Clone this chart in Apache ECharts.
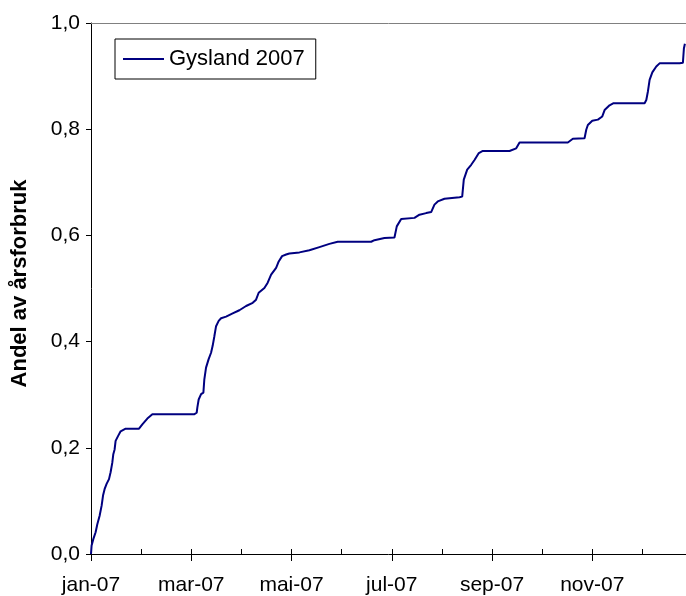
<!DOCTYPE html>
<html>
<head>
<meta charset="utf-8">
<script src="https://cdn.jsdelivr.net/npm/echarts@6/dist/echarts.min.js"></script>
<style>
html,body{margin:0;padding:0;background:#fff;}
#c{width:686px;height:596px;}
</style>
</head>
<body>
<div id="c"></div>
<script>
// x = months since 1 Jan 2007 (month axis, evenly spaced)
const monthLabels = ['jan-07','feb-07','mar-07','apr-07','mai-07','jun-07','jul-07','aug-07','sep-07','okt-07','nov-07','des-07'];
const yTicks = ['0,0','0,2','0,4','0,6','0,8','1,0'];
const seriesName = 'Gysland 2007';
const xMonths = [0,0.012,0.046,0.092,0.126,0.172,0.212,0.240,0.271,0.311,0.359,0.391,0.425,0.445,0.471,0.491,0.539,0.591,0.691,0.958,1.024,1.124,1.224,2.056,2.108,2.122,2.148,2.196,2.242,2.261,2.295,2.347,2.395,2.427,2.461,2.495,2.547,2.595,2.695,2.826,2.960,3.094,3.226,3.293,3.345,3.459,3.525,3.593,3.693,3.745,3.812,3.892,3.958,4.158,4.357,4.557,4.756,4.922,5.589,5.655,5.854,6.054,6.100,6.188,6.453,6.553,6.687,6.786,6.852,6.918,7.052,7.351,7.405,7.437,7.505,7.585,7.651,7.737,7.816,8.349,8.483,8.549,9.513,9.613,9.846,9.880,9.912,10.000,10.112,10.200,10.246,10.345,10.425,11.044,11.078,11.110,11.144,11.198,11.277,11.343,11.743,11.808,11.828,11.848];
const share = [0,0.016,0.028,0.041,0.056,0.072,0.091,0.110,0.122,0.132,0.141,0.154,0.172,0.188,0.197,0.213,0.222,0.231,0.236,0.236,0.244,0.255,0.263,0.263,0.266,0.276,0.291,0.301,0.304,0.329,0.351,0.367,0.379,0.392,0.410,0.429,0.439,0.444,0.447,0.453,0.459,0.467,0.473,0.479,0.492,0.501,0.511,0.526,0.539,0.551,0.561,0.564,0.566,0.568,0.572,0.578,0.584,0.588,0.588,0.591,0.595,0.596,0.617,0.631,0.633,0.639,0.642,0.644,0.658,0.664,0.669,0.672,0.673,0.705,0.724,0.733,0.742,0.755,0.759,0.759,0.764,0.775,0.775,0.782,0.783,0.799,0.808,0.816,0.818,0.824,0.836,0.845,0.849,0.849,0.855,0.871,0.893,0.907,0.918,0.924,0.924,0.925,0.952,0.961];

const data = xMonths.map((x,i)=>[x, share[i]]);
const xMax = 11.87;
const font = '"Liberation Sans", Arial, sans-serif';

const chart = echarts.init(document.getElementById('c'), null, {renderer:'canvas'});
chart.setOption({
  animation:false,
  backgroundColor:'#fff',
  grid:{left:91,right:0,top:23,bottom:41,show:false},
  legend:{
    show:true,left:115,top:39,orient:'horizontal',
    padding:[9,11,9,8],
    borderColor:'#000',borderWidth:1,backgroundColor:'#fff',
    icon:'rect',itemWidth:41,itemHeight:2,
    itemStyle:{color:'#000080'},
    textStyle:{fontFamily:font,fontSize:22,color:'#000'},
    data:[seriesName]
  },
  xAxis:[{
    type:'value',min:0,max:xMax,interval:1,position:'bottom',
    axisLine:{show:true,lineStyle:{color:'#000',width:1}},
    axisTick:{show:true,inside:true,length:5,lineStyle:{color:'#000'}},
    axisLabel:{show:false},
    splitLine:{show:false}
  },{
    type:'value',min:0,max:xMax,interval:2,position:'bottom',
    axisLine:{show:false},
    axisTick:{show:true,inside:false,length:7,lineStyle:{color:'#000'}},
    axisLabel:{show:true,margin:21,fontFamily:font,fontSize:21,color:'#000',showMaxLabel:false,
      formatter:function(v){const i=Math.round(v);return Math.abs(v-i)<1e-6 && monthLabels[i] ? monthLabels[i] : '';}},
    splitLine:{show:false}
  },{
    type:'value',min:0,max:xMax,position:'top',
    axisLine:{show:true,lineStyle:{color:'#808080',width:1}},
    axisTick:{show:false},axisLabel:{show:false},splitLine:{show:false}
  }],
  yAxis:{
    type:'value',min:0,max:1,interval:0.2,
    name:'Andel av årsforbruk',nameLocation:'middle',nameGap:60,
    nameTextStyle:{fontFamily:font,fontSize:22,fontWeight:'bold',color:'#000',padding:[0,0,0,10]},
    axisLine:{show:true,lineStyle:{color:'#000',width:1}},
    axisTick:{show:true,inside:false,length:5,lineStyle:{color:'#000'}},
    axisLabel:{margin:11,fontFamily:font,fontSize:21,color:'#000',
      formatter:function(v){return yTicks[Math.round(v/0.2)];}},
    splitLine:{show:false}
  },
  series:[{
    name:seriesName,type:'line',xAxisIndex:0,data:data,
    symbol:'none',showSymbol:false,
    lineStyle:{color:'#000080',width:2},
    itemStyle:{color:'#000080'}
  }]
});
</script>
</body>
</html>
